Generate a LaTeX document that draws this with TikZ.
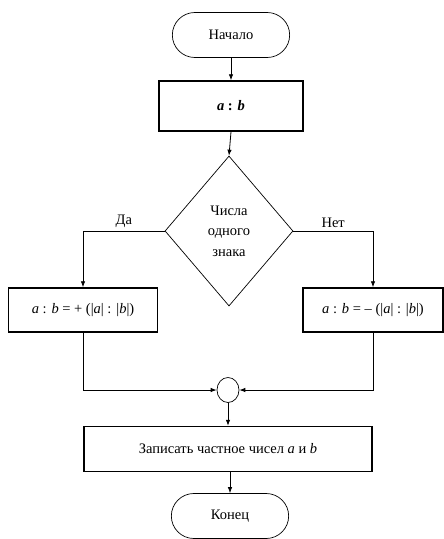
\documentclass[tikz,border=0pt]{standalone}
\usepackage{fontspec}
\setmainfont{Liberation Serif}
\usetikzlibrary{positioning}
\usetikzlibrary{shapes.geometric, shapes.misc}
\usetikzlibrary{arrows.meta}

\begin{document}
\begin{tikzpicture}[x=1pt, y=-1pt,
		every node/.style={font=\fontsize{14.5}{20.5}\selectfont},
		term/.style={draw, line width=0.7pt, rounded rectangle, minimum width=124pt, minimum height=45pt},
		proc/.style={draw, line width=1.5pt, rectangle, minimum height=44pt},
		cond/.style={draw, line width=0.7pt, diamond, minimum width=128pt, minimum height=150pt, inner sep=0pt, align=center},
		junc/.style={draw, line width=0.7pt, ellipse, minimum width=22pt, minimum height=25pt, inner sep=0pt},
		flow/.style={line width=0.8pt, -{Latex[length=6pt, width=4.5pt]}}
	]
	\useasboundingbox (0,0) rectangle (444,539);
	
	\node[term] (start) at (231,35) {Начало};
	\node[proc, minimum width=144pt, minimum height=50pt] (ab) at (231,106) {\textbf{\textit{a}} \textbf{:} \textbf{\textit{b}}};
	\node[cond] (sign) at (229,231) {Числа\\одного\\знака};
	\node[proc, minimum width=149pt] (plus) at (83,310) {\textit{a} : \textit{b} = + (|\textit{a}| : |\textit{b}|)};
	\node[proc, minimum width=140pt] (minus) at (373,310) {\textit{a} : \textit{b} = – (|\textit{a}| : |\textit{b}|)};
	\node[junc] (join) at (228,390) {};
	\node[proc, minimum width=288pt, minimum height=45pt] (write) at (228,449) {Записать частное чисел \textit{a} и \textit{b}};
	\node[term] (stop) at (230,516) {Конец};
	
	%top
	\draw[flow] (start.south) -- (ab.north);
	\draw[flow] (ab.south) -- (sign.north);
	
	%branches
	\draw[flow] (sign.west) -| (plus.north) node [pos=0.25, above] {Да};
	\draw[flow] (sign.east) -| (minus.north) node [pos=0.25, above] {Нет};
	
	%join
	\draw[flow] (plus.south) |- (join.west);
	\draw[flow] (minus.south) |- (join.east);
	\draw[flow] (join.south) -- (join.south |- write.north);
	\draw[flow] (write.south -| stop.north) -- (stop.north);
\end{tikzpicture}
\end{document}
